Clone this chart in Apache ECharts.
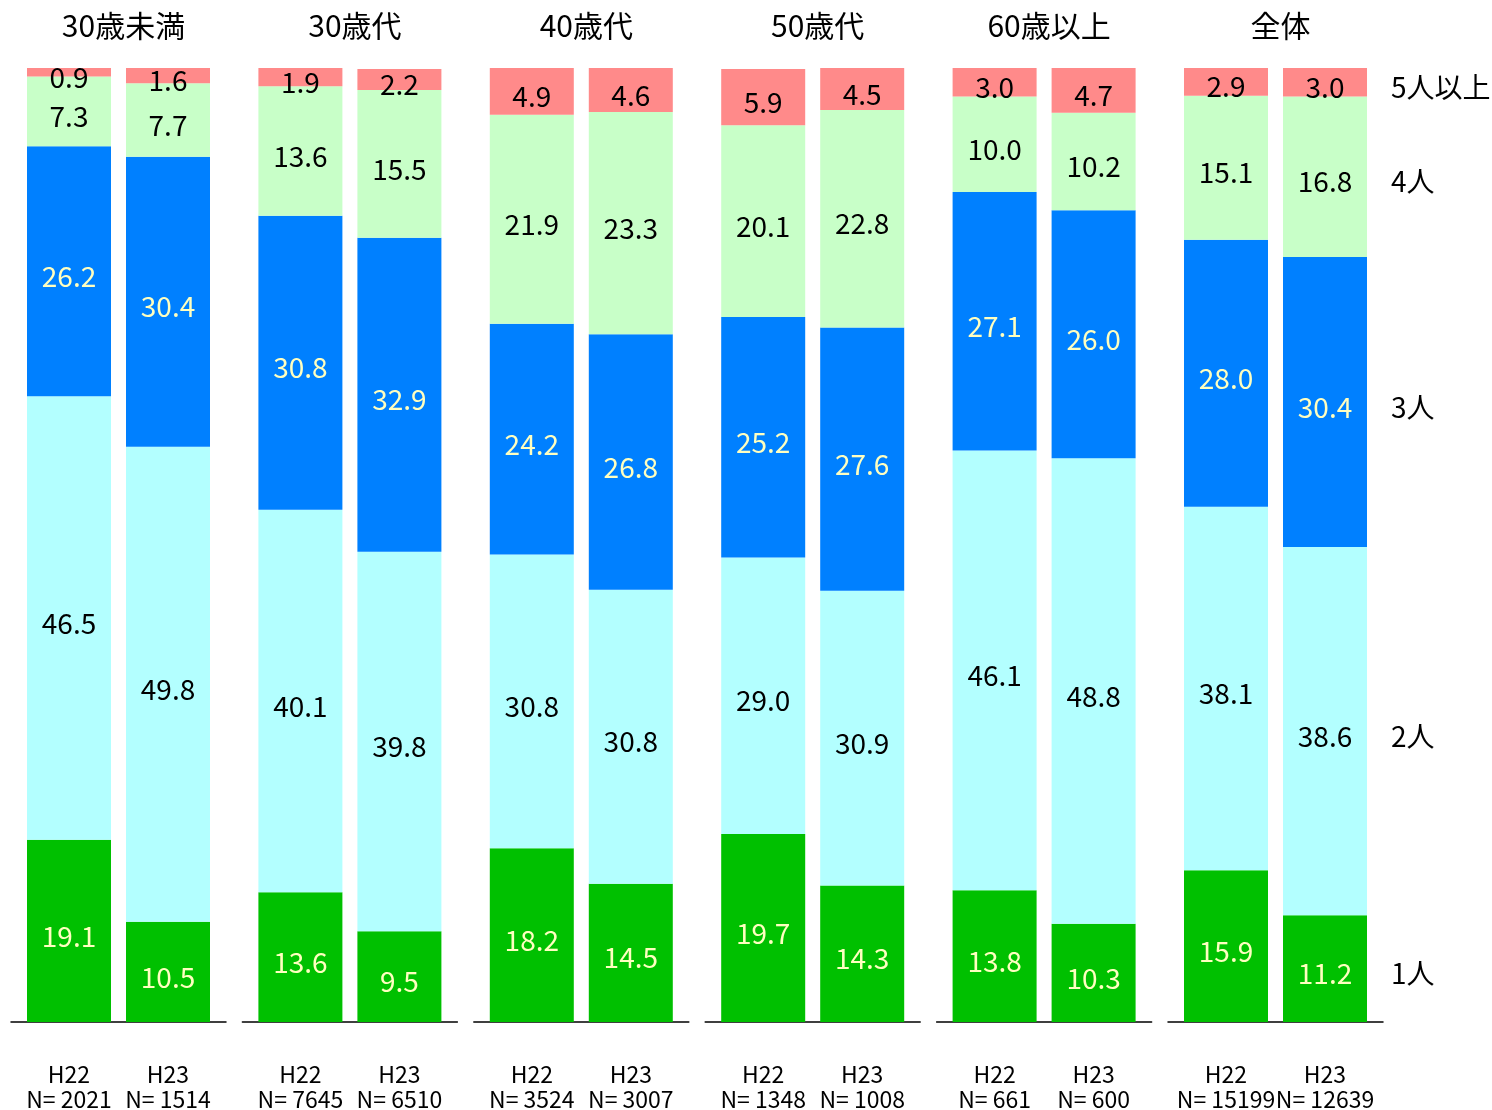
<!DOCTYPE html>
<html>
<head>
<meta charset="utf-8">
<script src="https://cdn.jsdelivr.net/npm/echarts@6/dist/echarts.min.js"></script>
<style>
  html, body { margin: 0; padding: 0; background: #fff; }
  #chart { width: 1492px; height: 1110px; }
</style>
</head>
<body>
<div id="chart"></div>
<script>
// 年代グループと調査年
const groups = ['30歳未満', '30歳代', '40歳代', '50歳代', '60歳以上', '全体'];
const years = ['H22', 'H23'];
const sampleN = [[2021, 1514], [7645, 6510], [3524, 3007], [1348, 1008], [661, 600], [15199, 12639]];

// 世帯人数（下から順）
const sizes = ['1人', '2人', '3人', '4人', '5人以上'];
const one   = [[19.1, 10.5], [13.6, 9.5], [18.2, 14.5], [19.7, 14.3], [13.8, 10.3], [15.9, 11.2]];
const two   = [[46.5, 49.8], [40.1, 39.8], [30.8, 30.8], [29.0, 30.9], [46.1, 48.8], [38.1, 38.6]];
const three = [[26.2, 30.4], [30.8, 32.9], [24.2, 26.8], [25.2, 27.6], [27.1, 26.0], [28.0, 30.4]];
const four  = [[7.3, 7.7], [13.6, 15.5], [21.9, 23.3], [20.1, 22.8], [10.0, 10.2], [15.1, 16.8]];
const five  = [[0.9, 1.6], [1.9, 2.2], [4.9, 4.6], [5.9, 4.5], [3.0, 4.7], [2.9, 3.0]];

const values = [one, two, three, four, five];
const colors = ['#00C000', '#B3FFFF', '#0080FF', '#C8FFC8', '#FF8A8A'];
const labelColors = ['#FFFFC0', '#000', '#FFFFC0', '#000', '#000'];

const FONT = '"Noto Sans CJK JP", "Noto Sans", sans-serif';
const chart = echarts.init(document.getElementById('chart'));

const grids = [], xAxes = [], yAxes = [], titles = [], series = [];
const step = 231.4, gw = 215, pad = 8.5;
const n = groups.length;

groups.forEach((g, i) => {
  const left = 11 + step * i;
  // 棒グラフ用
  grids.push({ left: left + pad, width: gw - 2 * pad, top: 68, height: 954, outerBoundsMode: 'none' });
  titles.push({
    text: g,
    left: left + gw / 2,
    top: 6,
    textAlign: 'center',
    textStyle: { fontFamily: FONT, fontSize: 30, fontWeight: 'normal', color: '#000' }
  });
  xAxes.push({
    type: 'category',
    gridIndex: i,
    data: years.map((y, j) => y + '\nN= ' + sampleN[i][j]),
    axisTick: { show: false },
    axisLine: { show: false },
    axisLabel: {
      interval: 0,
      hideOverlap: false,
      margin: 40,
      fontFamily: FONT,
      fontSize: 23,
      lineHeight: 25,
      color: '#000'
    }
  });
  yAxes.push({ type: 'value', gridIndex: i, min: 0, max: 100, show: false });

  sizes.forEach((s, k) => {
    series.push({
      name: s,
      type: 'bar',
      xAxisIndex: i,
      yAxisIndex: i,
      stack: 'g' + i,
      barWidth: 84,
      barGap: '-100%',
      itemStyle: { color: colors[k] },
      label: {
        show: true,
        position: 'inside',
        offset: [0, 5],
        formatter: p => p.value.toFixed(1),
        fontFamily: FONT,
        fontSize: 28,
        color: labelColors[k]
      },
      data: values[k][i]
    });
  });
});

// 各グループの基線（棒より少し広い）
groups.forEach((g, i) => {
  const left = 11 + step * i;
  grids.push({ left: left, width: gw, top: 68, height: 954, outerBoundsMode: 'none' });
  xAxes.push({
    type: 'value', gridIndex: n + i, min: 0, max: 1,
    splitLine: { show: false }, axisTick: { show: false }, axisLabel: { show: false },
    axisLine: { show: true, lineStyle: { color: '#000', width: 1.5 } }
  });
  yAxes.push({ type: 'value', gridIndex: n + i, min: 0, max: 1, show: false });
});

// 右端の凡例ラベル（全体H23の各区分の横）
const last = n - 1;
sizes.forEach((s, k) => {
  series.push({
    name: s,
    type: 'bar',
    xAxisIndex: last,
    yAxisIndex: last,
    stack: 'legend',
    barWidth: 84,
    barGap: '-100%',
    silent: true,
    itemStyle: { color: 'rgba(0,0,0,0)' },
    label: {
      show: true,
      position: 'right',
      distance: 24,
      offset: [0, 5],
      formatter: s,
      fontFamily: FONT,
      fontSize: 28,
      color: '#000'
    },
    data: ['-', values[k][last][1]]
  });
});

chart.setOption({
  backgroundColor: '#fff',
  animation: false,
  title: titles,
  grid: grids,
  xAxis: xAxes,
  yAxis: yAxes,
  series: series
});
</script>
</body>
</html>
